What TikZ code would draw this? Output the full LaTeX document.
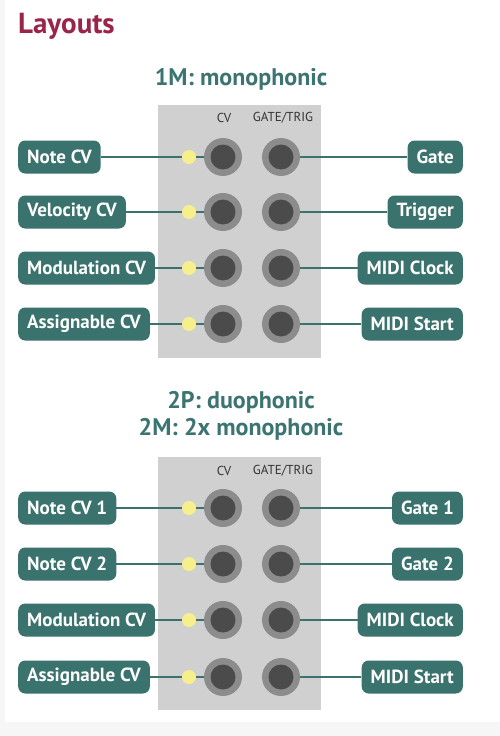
\documentclass[tikz,border=0pt]{standalone}
\usepackage{fontspec}
\setmainfont{PT Sans}
\definecolor{teal1}{HTML}{3A726D}
\definecolor{tealh}{HTML}{3B7470}
\definecolor{maroon1}{HTML}{9B2449}
\definecolor{panelg}{HTML}{D0D0D0}
\definecolor{ringg}{HTML}{8C8C8C}
\definecolor{holeg}{HTML}{4B4B4B}
\definecolor{ledy}{HTML}{F7EF8C}
\definecolor{outerg}{HTML}{F6F6F6}
\tikzset{
  lbl/.style={fill=teal1, text=white, rounded corners=7pt, minimum height=33pt,
    inner xsep=9pt, inner ysep=0pt, font=\fontsize{19}{19}\selectfont\bfseries},
  lbll/.style={lbl, anchor=west},
  lblr/.style={lbl, anchor=east},
  wire/.style={draw=teal1, line width=1.5pt},
  panel/.style={fill=panelg, draw=none},
  ring/.style={circle, fill=ringg, minimum size=38pt, inner sep=0pt},
  hole/.style={circle, fill=holeg, minimum size=25pt, inner sep=0pt},
  led/.style={circle, fill=ledy, minimum size=14pt, inner sep=0pt},
  head/.style={text=tealh, anchor=base, font=\fontsize{24}{28}\selectfont\bfseries},
  collbl/.style={text=black!80, font=\fontsize{13}{14}\selectfont},
}
\begin{document}
\begin{tikzpicture}[x=1pt,y=-1pt]
\useasboundingbox (0,0) rectangle (500,736);
\fill[outerg] (0,0) rectangle (500,736);
\fill[white] (5,0) rectangle (500,722);
\node[anchor=base west, inner sep=0pt, text=maroon1, font=\fontsize{29}{30}\selectfont\bfseries] (title) at (18,33) {Layouts};

% ---------- Section 1 ----------
\node[head] (h1) at (241,85) {1M: monophonic};
\fill[panel] (158,105) rectangle (321,358);
\node[collbl] (cv1) at (224,118) {CV};
\node[collbl] (gt1) at (283,118) {GATE/TRIG};

\foreach \i/\y in {1/157,2/212,3/268,4/324}{
  \coordinate (ja\i) at (223,\y);
  \coordinate (jb\i) at (281,\y);
  \coordinate (la\i) at (189,\y);
}
\node[lbll] (l1) at (18,157) {Note CV};
\node[lbll] (l2) at (18,212) {Velocity CV};
\node[lbll] (l3) at (18,268) {Modulation CV};
\node[lbll] (l4) at (18,324) {Assignable CV};
\node[lblr] (r1) at (463,157) {Gate};
\node[lblr] (r2) at (463,212) {Trigger};
\node[lblr] (r3) at (463,268) {MIDI Clock};
\node[lblr] (r4) at (463,324) {MIDI Start};
\foreach \i in {1,2,3,4}{
  \draw[wire] (l\i.east) -- (ja\i);
  \draw[wire] (r\i.west) -- (jb\i);
  \node[led] (d\i) at (la\i) {};
  \node[ring] (ra\i) at (ja\i) {};
  \node[hole] (ha\i) at (ja\i) {};
  \node[ring] (rb\i) at (jb\i) {};
  \node[hole] (hb\i) at (jb\i) {};
}

% ---------- Section 2 ----------
\node[head] (h2) at (241,408) {2P: duophonic};
\node[head] (h3) at (241,435) {2M: 2x monophonic};
\fill[panel] (158,457) rectangle (321,710);
\node[collbl] (cv2) at (224,471) {CV};
\node[collbl] (gt2) at (283,471) {GATE/TRIG};

\foreach \i/\y in {1/508,2/564,3/620,4/677}{
  \coordinate (jc\i) at (223,\y);
  \coordinate (jd\i) at (281,\y);
  \coordinate (lc\i) at (189,\y);
}
\node[lbll] (m1) at (18,508) {Note CV 1};
\node[lbll] (m2) at (18,564) {Note CV 2};
\node[lbll] (m3) at (18,620) {Modulation CV};
\node[lbll] (m4) at (18,677) {Assignable CV};
\node[lblr] (s1) at (463,508) {Gate 1};
\node[lblr] (s2) at (463,564) {Gate 2};
\node[lblr] (s3) at (463,620) {MIDI Clock};
\node[lblr] (s4) at (463,677) {MIDI Start};
\foreach \i in {1,2,3,4}{
  \draw[wire] (m\i.east) -- (jc\i);
  \draw[wire] (s\i.west) -- (jd\i);
  \node[led] (e\i) at (lc\i) {};
  \node[ring] (rc\i) at (jc\i) {};
  \node[hole] (hc\i) at (jc\i) {};
  \node[ring] (rd\i) at (jd\i) {};
  \node[hole] (hd\i) at (jd\i) {};
}
\end{tikzpicture}
\end{document}
